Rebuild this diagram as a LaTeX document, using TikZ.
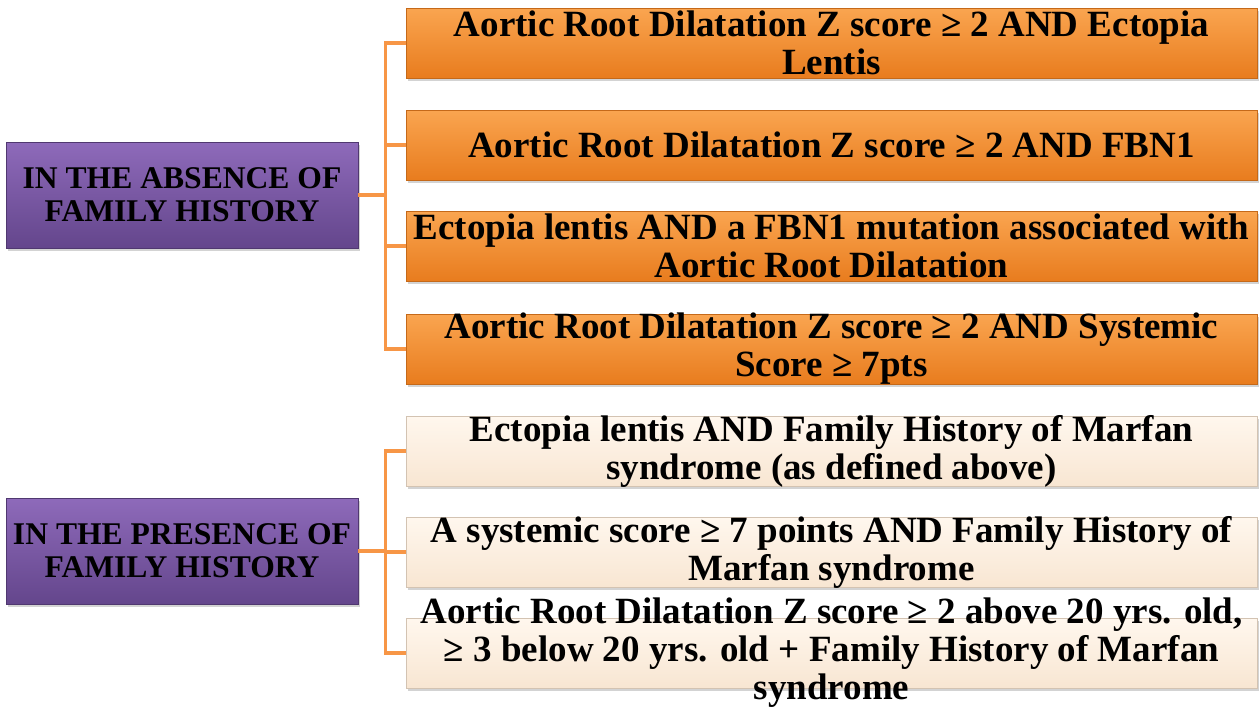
\documentclass[tikz,border=0pt]{standalone}
\usepackage{fontspec}
\setmainfont{Liberation Serif}
\usetikzlibrary{shadows}
\definecolor{linkorange}{RGB}{247,150,70}
\definecolor{purpletop}{RGB}{142,106,186}
\definecolor{purplemid}{RGB}{124,90,168}
\definecolor{purplebot}{RGB}{100,70,140}
\definecolor{orangetop}{RGB}{250,165,80}
\definecolor{orangemid}{RGB}{247,146,48}
\definecolor{orangebot}{RGB}{232,124,30}
\definecolor{creamtop}{RGB}{255,247,238}
\definecolor{creammid}{RGB}{253,240,226}
\definecolor{creambot}{RGB}{248,230,210}

\begin{document}
\begin{tikzpicture}[x=0.5pt,y=-0.5pt,
	link/.style={draw=linkorange, line width=1.6pt},
	groupbox/.style={minimum width=176pt, minimum height=53pt, inner sep=0pt, top color=purpletop, middle color=purplemid, bottom color=purplebot, draw=purplebot!80!black, line width=0.4pt, drop shadow={shadow xshift=1pt, shadow yshift=-1.5pt, opacity=0.35}},
	critbox/.style={minimum width=425.5pt, minimum height=35pt, inner sep=0pt, draw=#1bot!85!black, line width=0.4pt, top color=#1top, middle color=#1mid, bottom color=#1bot, drop shadow={shadow xshift=1pt, shadow yshift=-1.5pt, opacity=0.35}},
	grouptext/.style={font=\bfseries\fontsize{15.8}{16.5}\selectfont, align=center, inner sep=0pt},
	crittext/.style={font=\bfseries\fontsize{18.5}{19}\selectfont, align=center, inner sep=0pt}]
	\useasboundingbox (0,0) rectangle (1259,709);
	
	\node (pa) at (182,195) [groupbox] {};
	\node (pb) at (182,551) [groupbox] {};
	
	\node (o1) at (831.5,43) [critbox=orange] {};
	\node (o2) at (831.5,145) [critbox=orange] {};
	\node (o3) at (831.5,246) [critbox=orange] {};
	\node (o4) at (831.5,349) [critbox=orange] {};
	\node (c1) at (831.5,451) [critbox=cream] {};
	\node (c2) at (831.5,552) [critbox=cream] {};
	\node (c3) at (831.5,653) [critbox=cream] {};
	
	\foreach \k in {o1,o2,o3,o4}
		\draw[link] (pa.east) -- ++(27,0) |- (\k.west);
	\foreach \k in {c1,c2,c3}
		\draw[link] (pb.east) -- ++(27,0) |- (\k.west);
	
	\node at (pa) [grouptext] {IN THE ABSENCE OF\\FAMILY HISTORY};
	\node at (pb) [grouptext] {IN THE PRESENCE OF\\FAMILY HISTORY};
	
	\node at (o1) [crittext] {Aortic Root Dilatation Z score ≥ 2 AND Ectopia\\Lentis};
	\node at (o2) [crittext] {Aortic Root Dilatation Z score ≥ 2 AND FBN1};
	\node at (o3) [crittext] {Ectopia lentis AND a FBN1 mutation associated with\\Aortic Root Dilatation};
	\node at (o4) [crittext] {Aortic Root Dilatation Z score ≥ 2 AND Systemic\\Score ≥ 7pts};
	\node at (c1) [crittext] {Ectopia lentis AND Family History of Marfan\\syndrome (as defined above)};
	\node at (c2) [crittext] {A systemic score ≥ 7 points AND Family History of\\Marfan syndrome};
	\node at (c3) [crittext] {Aortic Root Dilatation Z score ≥ 2 above 20 yrs. old,\\≥ 3 below 20 yrs. old + Family History of Marfan\\syndrome};
\end{tikzpicture}
\end{document}
